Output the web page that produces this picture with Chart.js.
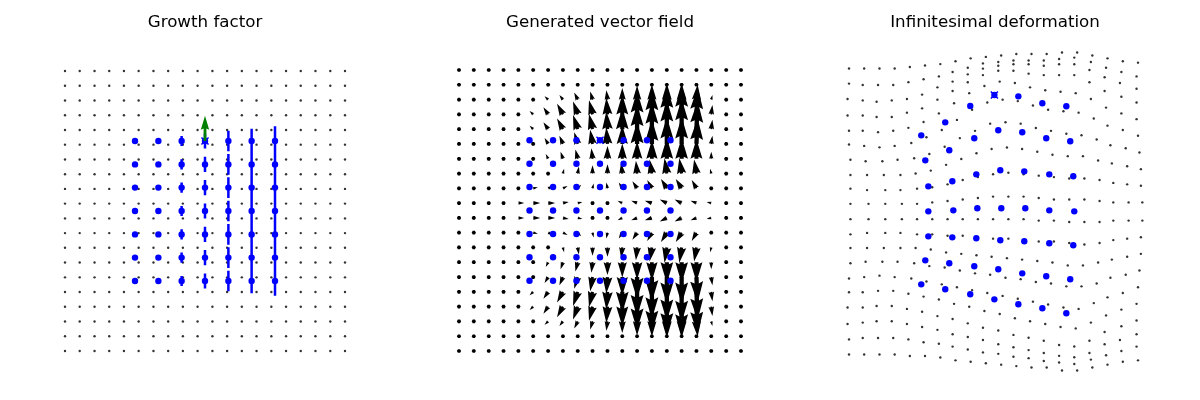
<!DOCTYPE html>
<html>
<head>
<meta charset="utf-8">
<script src="https://cdn.jsdelivr.net/npm/chart.js@4.4.1/dist/chart.umd.min.js"></script>
<style>
  html, body { margin: 0; padding: 0; background: #fff; }
  #figure { position: relative; width: 1200px; height: 400px; overflow: hidden; }
  #figure canvas { position: absolute; top: 0; }
</style>
</head>
<body>
<div id="figure">
  <canvas id="growth" width="400" height="400" style="left:5px"></canvas>
  <canvas id="field" width="400" height="400" style="left:400px"></canvas>
  <canvas id="deform" width="400" height="400" style="left:795px"></canvas>
</div>
<script>
// regular sample grid (20 x 20), rows listed top to bottom
const gridX = [-1, -0.895, -0.789, -0.684, -0.579, -0.474, -0.368, -0.263, -0.158, -0.053,
               0.053, 0.158, 0.263, 0.368, 0.474, 0.579, 0.684, 0.789, 0.895, 1];
const gridY = [1, 0.895, 0.789, 0.684, 0.579, 0.474, 0.368, 0.263, 0.158, 0.053,
               -0.053, -0.158, -0.263, -0.368, -0.474, -0.579, -0.684, -0.789, -0.895, -1];

// control points (7 x 7)
const blueX = [-0.5, -0.333, -0.167, 0, 0.167, 0.333, 0.5];
const blueY = [0.5, 0.333, 0.167, 0, -0.167, -0.333, -0.5];

// growth factor per control column (half length of the vertical bar)
const growth = [0, 0, 0.036, 0.054, 0.074, 0.088, 0.105];

// picked point and its direction
const picked = [0, 0.5];
const greenArrow = [0, 0.18];

// generated vector field on the grid (components, 120 units = 1 axis unit)
const fieldU = [
  [0,0,0,0,0,0,0,0,0,0,0,0,0,0,0,0,0,0,0,0],
  [0,0,0,0,0,0,0,0,0,0,0,0,0,0,0,0,0,0,0,0],
  [0,0,0,-1,-2,-2,-3,-3,-3,-2,-1,0,0,0,0,0,1,1,0,0],
  [0,0,0,-1,-2,-3,-4,-5,-4,-3,-1,0,0,0,0,0,1,1,0,0],
  [0,0,0,-1,-2,-3,-4,-5,-4,-3,-1,0,0,0,0,0,1,1,0,0],
  [0,0,0,-1,-2,-2,-3,-3,-3,-2,-1,0,0,0,0,0,1,1,0,0],
  [0,0,0,0,-1,-1,-2,-2,-2,-1,0,0,0,0,0,0,0,0,0,0],
  [0,0,0,1,1,1,1,1,1,0,0,-1,-1,-2,-2,-2,-2,-1,0,0],
  [0,0,1,2,3,4,4,4,3,1,-1,-3,-4,-4,-5,-5,-4,-3,-1,0],
  [0,1,2,3,5,6,6,5,4,2,-2,-4,-5,-6,-6,-6,-5,-4,-2,0],
  [0,1,2,3,5,6,6,5,4,2,-2,-4,-5,-6,-6,-6,-5,-4,-2,0],
  [0,0,1,2,3,4,4,4,3,1,-1,-3,-4,-4,-5,-5,-4,-3,-1,0],
  [0,0,0,1,1,1,1,1,1,0,0,-1,-1,-2,-2,-2,-2,-1,0,0],
  [0,0,0,0,-1,-1,-2,-2,-2,-1,0,0,0,0,0,0,0,0,0,0],
  [0,0,0,-1,-2,-2,-3,-3,-3,-2,-1,0,0,0,0,0,1,1,0,0],
  [0,0,0,-1,-2,-3,-4,-5,-4,-3,-1,0,0,0,0,0,1,1,0,0],
  [0,0,0,-1,-2,-3,-4,-5,-4,-3,-1,0,0,0,0,0,1,1,0,0],
  [0,0,0,-1,-2,-2,-3,-3,-3,-2,-1,0,0,0,0,0,1,1,0,0],
  [0,0,0,0,0,0,0,0,0,0,0,0,0,0,0,0,0,0,0,0],
  [0,0,0,0,0,0,0,0,0,0,0,0,0,0,0,0,0,0,0,0]
];
const fieldV = [
  [0,0,0,0,0,0,0,0,0,0,0,0,0,0,0,0,0,0,0,0],
  [0,0,0,0,0,0,0,0,0.5,0.7,0.8,0.9,1,1.2,1.3,1.3,1.2,0.4,0,0],
  [0,0,0,0,1,2,3,4,6,7,8,10,12,13,14,14,13,4,0,0],
  [0,0,0,0,1,3,6,9,11,12,14,17,20,22,24,25,23,8,0,0],
  [0,0,0,0,1,3,6,9,12,13,15,18,21,23,25,26,24,8,0,0],
  [0,0,0,0,1,3,5,7,10,12,14,16,19,21,23,23,22,7,0,0],
  [0,0,0,0,1,2,4,6,8,9,11,13,15,16,18,18,17,6,0,0],
  [0,0,0,0,1,2,3,4,6,7,8,9,11,12,13,13,12,4,0,0],
  [0,0,0,0,0,1,2,2,3,4,5,5,6,7,8,8,7,2,0,0],
  [0,0,0,0,0,0,0,1,1,1,2,2,2,2,3,3,2,1,0,0],
  [0,0,0,0,0,0,0,-1,-1,-1,-2,-2,-2,-2,-3,-3,-2,-1,0,0],
  [0,0,0,0,0,-1,-2,-2,-3,-4,-5,-5,-6,-7,-8,-8,-7,-2,0,0],
  [0,0,0,0,-1,-2,-3,-4,-6,-7,-8,-9,-11,-12,-13,-13,-12,-4,0,0],
  [0,0,0,0,-1,-2,-4,-6,-8,-9,-11,-13,-15,-16,-18,-18,-17,-6,0,0],
  [0,0,0,0,-1,-3,-5,-7,-10,-12,-14,-16,-19,-21,-23,-23,-22,-7,0,0],
  [0,0,0,0,-1,-3,-6,-9,-12,-13,-15,-18,-21,-23,-25,-26,-24,-8,0,0],
  [0,0,0,0,-1,-3,-6,-9,-11,-12,-14,-17,-20,-22,-24,-25,-23,-8,0,0],
  [0,0,0,0,-1,-2,-3,-4,-6,-7,-8,-10,-12,-13,-14,-14,-13,-4,0,0],
  [0,0,0,0,0,0,0,0,-0.5,-0.7,-0.8,-0.9,-1,-1.2,-1.3,-1.3,-1.2,-0.4,0,0],
  [0,0,0,0,0,0,0,0,0,0,0,0,0,0,0,0,0,0,0,0]
];

// displacement of the grid after the deformation (hundredths of an axis unit)
const shiftX = [
  [0,0,0,0,0,0,0,0,0,0,0,0,0,0,0,0,0,0,0,0],
  [0,-1,-1,-1,-1,-1,-1,-2,-2,-2,-2,-2,-2,-2,-2,-2,-1,-1,-1,-1],
  [-1,-1,-2,-2,-2,-2,-2,-2,-2,-2,-2,-2,-2,-2,-2,-2,-2,-2,-2,-1],
  [-1,-1,-2,-2,-2,-2,-2,-2,-2,-2,-2,-2,-2,-2,-2,-2,-2,-2,-1,-1],
  [0,-1,-1,-1,-1,-1,-1,-1,-1,-1,-1,-1,-1,-1,-1,-1,-1,-1,-1,-1],
  [0,0,0,0,1,1,1,1,1,1,1,1,1,1,1,1,1,0,0,0],
  [1,1,2,2,3,3,3,3,3,3,3,3,3,3,3,3,3,2,2,1],
  [1,2,3,4,4,4,4,4,4,4,4,4,4,4,4,4,4,3,3,2],
  [1,2,4,4,5,5,5,5,5,5,5,5,5,5,5,5,5,4,3,2],
  [1,3,4,5,5,5,5,5,5,5,5,5,5,5,5,5,5,4,4,3],
  [1,3,4,5,5,5,5,5,5,5,5,5,5,5,5,5,5,4,4,3],
  [1,2,4,4,5,5,5,5,5,5,5,5,5,5,5,5,5,4,3,2],
  [1,2,3,4,4,4,4,4,4,4,4,4,4,4,4,4,4,3,3,2],
  [1,1,2,2,3,3,3,3,3,3,3,3,3,3,3,3,3,2,2,1],
  [0,0,0,0,1,1,1,1,1,1,1,1,1,1,1,1,1,0,0,0],
  [0,-1,-1,-1,-1,-1,-1,-1,-1,-1,-1,-1,-1,-1,-1,-1,-1,-1,-1,-1],
  [-1,-1,-2,-2,-2,-2,-2,-2,-2,-2,-2,-2,-2,-2,-2,-2,-2,-2,-1,-1],
  [-1,-1,-2,-2,-2,-2,-2,-2,-2,-2,-2,-2,-2,-2,-2,-2,-2,-2,-2,-1],
  [0,-1,-1,-1,-1,-1,-1,-2,-2,-2,-2,-2,-2,-2,-2,-2,-1,-1,-1,-1],
  [0,0,0,0,0,0,0,0,0,0,0,0,0,0,0,0,0,0,0,0]
];
const shiftY = [
  [-1,-1,-1,-1,0,1,2,4,6,7,8,9,9,9,10,10,8,6,4,3],
  [-1,-2,-2,-2,0,2,4,7,10,13,14,15,15,15,16,17,14,10,7,4],
  [-1,-2,-3,-2,-1,2,7,11,16,20,22,23,23,22,23,23,19,14,10,6],
  [-2,-2,-3,-3,0,3,9,15,21,26,29,29,27,26,26,26,21,15,11,7],
  [-2,-2,-3,-2,0,4,10,17,24,29,32,31,28,26,25,24,20,14,10,6],
  [-1,-2,-3,-2,0,4,9,16,23,28,30,29,26,23,22,21,17,12,9,5],
  [-1,-2,-2,-1,0,3,8,14,19,24,25,24,21,19,17,16,13,9,7,4],
  [-1,-1,-1,-1,0,2,6,10,14,17,18,17,15,13,12,12,9,7,5,3],
  [0,-1,-1,-1,0,1,3,6,8,10,11,10,9,8,7,7,6,4,3,2],
  [0,0,0,0,0,1,2,3,4,5,5,5,4,3,3,3,2,1,1,1],
  [0,0,0,0,0,0,0,0,0,0,0,0,-1,-1,-2,-2,-2,-1,-1,-1],
  [0,1,1,1,0,0,-1,-1,-2,-3,-3,-4,-5,-5,-6,-7,-6,-4,-3,-2],
  [1,1,1,1,1,0,-2,-3,-4,-5,-6,-7,-8,-9,-11,-11,-9,-7,-5,-3],
  [1,2,2,2,1,-1,-2,-4,-6,-7,-9,-10,-12,-13,-15,-15,-13,-9,-7,-4],
  [1,2,3,2,1,-1,-3,-5,-7,-9,-11,-13,-15,-17,-19,-20,-16,-12,-9,-5],
  [2,2,3,3,1,-1,-3,-6,-8,-11,-13,-16,-18,-20,-22,-23,-19,-14,-10,-6],
  [2,2,3,3,1,-1,-4,-6,-9,-12,-14,-17,-19,-21,-24,-25,-21,-15,-11,-7],
  [1,2,3,3,1,-1,-3,-6,-8,-10,-13,-15,-17,-19,-21,-22,-19,-13,-10,-6],
  [1,2,2,2,1,-1,-2,-4,-6,-8,-9,-11,-12,-14,-15,-16,-13,-10,-7,-4],
  [1,1,1,1,0,0,-1,-3,-4,-5,-6,-7,-8,-8,-10,-10,-8,-6,-4,-3]
];

// control points after the deformation
const deformedBlueX = [
  [-0.500, -0.334, -0.161, 0.006, 0.172, 0.338, 0.504],
  [-0.472, -0.306, -0.133, 0.033, 0.199, 0.365, 0.531],
  [-0.451, -0.285, -0.119, 0.047, 0.213, 0.386, 0.552],
  [-0.451, -0.278, -0.112, 0.054, 0.220, 0.386, 0.559],
  [-0.451, -0.285, -0.119, 0.047, 0.213, 0.386, 0.552],
  [-0.472, -0.306, -0.133, 0.033, 0.199, 0.365, 0.531],
  [-0.500, -0.334, -0.161, 0.006, 0.172, 0.338, 0.504]
];
const deformedBlueY = [
  [0.527, 0.617, 0.730, 0.806, 0.797, 0.749, 0.728],
  [0.354, 0.424, 0.507, 0.562, 0.548, 0.507, 0.486],
  [0.174, 0.209, 0.257, 0.285, 0.278, 0.257, 0.244],
  [0.001, 0.008, 0.022, 0.022, 0.022, 0.008, 0.001],
  [-0.172, -0.179, -0.185, -0.199, -0.206, -0.220, -0.234],
  [-0.338, -0.358, -0.379, -0.400, -0.428, -0.448, -0.469],
  [-0.504, -0.538, -0.573, -0.608, -0.642, -0.670, -0.704]
];

const BLUE = '#0000ff';
const FIELD_SCALE = 120;
const TITLE_SIZE = 16.7;
const TITLE_PAD = 13;

// matplotlib-like quiver arrow, pivot at the tail
function drawArrow(ctx, x0, y0, x1, y1, w) {
  const dx = x1 - x0, dy = y1 - y0, len = Math.hypot(dx, dy);
  ctx.beginPath();
  if (len < w) {
    for (let k = 0; k < 6; k++) {
      const a = k * Math.PI / 3;
      ctx.lineTo(x0 + Math.cos(a) * w / 2, y0 + Math.sin(a) * w / 2);
    }
  } else {
    const hl = 5 * w, hal = 4.5 * w, hw = 3 * w;
    const L = Math.max(len, hl), s = len / L;
    const c = dx / len, sn = dy / len;
    const shape = [[0, -w / 2], [L - hal, -w / 2], [L - hl, -hw / 2], [L, 0],
                   [L - hl, hw / 2], [L - hal, w / 2], [0, w / 2]];
    shape.forEach(([u, v]) => ctx.lineTo(x0 + s * (u * c - v * sn), y0 + s * (u * sn + v * c)));
  }
  ctx.closePath();
  ctx.fill();
}

const arrowPlugin = {
  id: 'arrows',
  afterDatasetDraw(chart, args) {
    const ds = chart.data.datasets[args.index];
    if (!ds.arrows) return;
    const ctx = chart.ctx, sx = chart.scales.x, sy = chart.scales.y;
    ctx.save();
    ctx.fillStyle = ds.arrows.color;
    ds.data.forEach(p => {
      drawArrow(ctx,
        sx.getPixelForValue(p.x), sy.getPixelForValue(p.y),
        sx.getPixelForValue(p.x + p.u * ds.arrows.scale),
        sy.getPixelForValue(p.y + p.v * ds.arrows.scale),
        ds.arrows.width);
    });
    ctx.restore();
  }
};

function onGrid(fn) {
  const pts = [];
  gridY.forEach((y, j) => gridX.forEach((x, i) => pts.push(fn(x, y, i, j))));
  return pts;
}
function onBlue(fn) {
  const pts = [];
  blueY.forEach((y, j) => blueX.forEach((x, i) => pts.push(fn(x, y, i, j))));
  return pts;
}

// view = page centre of the grid and pixels per unit
function panelOptions(title, view, offset) {
  const top = TITLE_PAD + TITLE_SIZE * 1.2;
  return {
    responsive: false,
    animation: false,
    events: [],
    layout: { padding: 0, autoPadding: false },
    plugins: {
      legend: { display: false },
      tooltip: { enabled: false },
      title: {
        display: true, text: title, color: '#000',
        font: { family: 'DejaVu Sans', size: TITLE_SIZE, weight: 'normal' },
        padding: { top: TITLE_PAD, bottom: 0 }
      }
    },
    scales: {
      x: { type: 'linear', display: false,
           min: (offset - view.cx) / view.kx, max: (offset + 400 - view.cx) / view.kx },
      y: { type: 'linear', display: false,
           min: (view.cy - 400) / view.ky, max: (view.cy - top) / view.ky }
    }
  };
}

function dots(data, radius, color, order) {
  return { type: 'scatter', data, order, pointRadius: radius,
           pointBackgroundColor: color, pointBorderWidth: 0 };
}
function cross(point, order) {
  return { type: 'scatter', data: [point], order, pointStyle: 'crossRot',
           pointRadius: 5, pointBorderColor: BLUE, pointBorderWidth: 1.5 };
}

// growth bars
const growthSegments = [];
blueX.forEach((x, i) => {
  if (growth[i] <= 0) return;
  blueY.forEach(y => {
    growthSegments.push({ x, y: y - growth[i] }, { x, y: y + growth[i] }, { x, y: null });
  });
});

new Chart(document.getElementById('growth'), {
  type: 'scatter',
  data: {
    datasets: [
      dots(onGrid((x, y) => ({ x, y })), 1.2, '#333', 5),
      { type: 'line', data: growthSegments, order: 4, showLine: true, spanGaps: false,
        borderColor: BLUE, borderWidth: 2.5, borderCapStyle: 'butt', pointRadius: 0, tension: 0 },
      dots(onBlue((x, y) => ({ x, y })), 3.2, BLUE, 3),
      cross({ x: picked[0], y: picked[1] }, 2),
      { type: 'scatter', order: 1, pointRadius: 0,
        data: [{ x: picked[0], y: picked[1], u: greenArrow[0], v: greenArrow[1] }],
        arrows: { color: '#008000', width: 2.8, scale: 1 } }
    ]
  },
  options: panelOptions('Growth factor', { cx: 205, cy: 211, kx: 140, ky: 140 }, 5),
  plugins: [arrowPlugin]
});

new Chart(document.getElementById('field'), {
  type: 'scatter',
  data: {
    datasets: [
      { type: 'scatter', order: 3, pointRadius: 0,
        data: onGrid((x, y, i, j) => ({ x, y, u: fieldU[j][i], v: fieldV[j][i] })),
        arrows: { color: '#000', width: 4.3, scale: 1 / FIELD_SCALE } },
      dots(onBlue((x, y) => ({ x, y })), 3.2, BLUE, 2),
      cross({ x: picked[0], y: picked[1] }, 1)
    ]
  },
  options: panelOptions('Generated vector field', { cx: 600, cy: 210.5, kx: 141, ky: 140.5 }, 400),
  plugins: [arrowPlugin]
});

new Chart(document.getElementById('deform'), {
  type: 'scatter',
  data: {
    datasets: [
      dots(onGrid((x, y, i, j) => ({ x: x + shiftX[j][i] / 100, y: y + shiftY[j][i] / 100 })), 1.2, '#333', 3),
      dots(onBlue((x, y, i, j) => ({ x: deformedBlueX[j][i], y: deformedBlueY[j][i] })), 3.2, BLUE, 2),
      cross({ x: deformedBlueX[0][3], y: deformedBlueY[0][3] }, 1)
    ]
  },
  options: panelOptions('Infinitesimal deformation', { cx: 993.5, cy: 211.5, kx: 144.5, ky: 144.5 }, 795),
  plugins: [arrowPlugin]
});
</script>
</body>
</html>
